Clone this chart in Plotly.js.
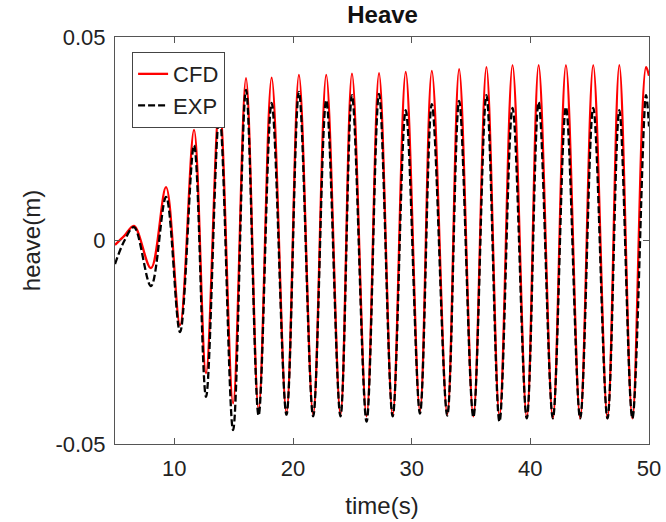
<!DOCTYPE html>
<html>
<head>
<meta charset="utf-8">
<script src="https://cdn.plot.ly/plotly-3.0.1.min.js"></script>
<style>html,body{margin:0;padding:0;background:#fff;}#chart{width:666px;height:522px;}</style>
</head>
<body>
<div id="chart"></div>
<script>
// Heave time histories (peaks / troughs)
const timeCFD = [5.0, 5.8, 6.6, 8.03, 9.3, 10.48, 11.66, 12.67, 13.8, 14.95, 16.04, 17.1, 18.2, 19.45, 20.5, 21.7, 22.8, 24.0, 24.97, 26.2, 27.25, 28.4, 29.5, 30.7, 31.7, 33.0, 34.0, 35.2, 36.3, 37.4, 38.5, 39.7, 40.7, 41.9, 43.0, 44.2, 45.3, 46.5, 47.5, 48.6, 49.75, 50.0];
const heaveCFD = [-0.0011, 0.0012, 0.0036, -0.0068, 0.0131, -0.0208, 0.0272, -0.0326, 0.0340, -0.0400, 0.0399, -0.0416, 0.0400, -0.0424, 0.0407, -0.0428, 0.0407, -0.0428, 0.0410, -0.0432, 0.0411, -0.0430, 0.0414, -0.0420, 0.0417, -0.0428, 0.0421, -0.0432, 0.0426, -0.0432, 0.0431, -0.0436, 0.0431, -0.0437, 0.0431, -0.0437, 0.0431, -0.0437, 0.0431, -0.0437, 0.0426, 0.0405];
const timeEXP = [5.0, 5.8, 6.6, 8.03, 9.3, 10.48, 11.66, 12.67, 13.8, 14.95, 16.04, 17.1, 18.2, 19.45, 20.5, 21.7, 22.8, 24.0, 24.97, 26.2, 27.25, 28.4, 29.5, 30.7, 31.7, 33.0, 34.0, 35.2, 36.3, 37.4, 38.5, 39.7, 40.7, 41.9, 43.0, 44.2, 45.3, 46.5, 47.5, 48.6, 49.75, 50.0];
const heaveEXP = [-0.0058, 0.0000, 0.0033, -0.0112, 0.0107, -0.0225, 0.0234, -0.0384, 0.0310, -0.0466, 0.0370, -0.0430, 0.0338, -0.0428, 0.0365, -0.0432, 0.0345, -0.0432, 0.0357, -0.0445, 0.0360, -0.0432, 0.0320, -0.0425, 0.0335, -0.0430, 0.0343, -0.0434, 0.0357, -0.0445, 0.0326, -0.0437, 0.0340, -0.0437, 0.0328, -0.0437, 0.0326, -0.0437, 0.0320, -0.0437, 0.0357, 0.0280];
const xTicks = [10, 20, 30, 40, 50];
const yTicks = [-0.05, 0, 0.05];
const yTickLabels = ['-0.05', '0', '0.05'];

const FONT = 'Liberation Sans, Arial, Helvetica, sans-serif';
const traces = [
  {x: timeCFD, y: heaveCFD, name: 'CFD', mode: 'lines', type: 'scatter',
   line: {color: '#ff0000', width: 2.3, shape: 'spline'}},
  {x: timeEXP, y: heaveEXP, name: 'EXP', mode: 'lines', type: 'scatter',
   line: {color: '#000000', width: 2.3, dash: '7px,3px', shape: 'spline'}}
];
const axisCommon = {
  showline: true, linecolor: '#555555', linewidth: 1, mirror: 'ticks',
  ticks: 'inside', ticklen: 6, tickcolor: '#555555', tickwidth: 1,
  showgrid: false, zeroline: false,
  tickfont: {family: FONT, size: 22, color: '#222222'}
};
const layout = {
  width: 666, height: 522,
  margin: {l: 115, r: 17, t: 37, b: 78},
  paper_bgcolor: '#ffffff', plot_bgcolor: '#ffffff',
  title: {text: '<b>Heave</b>', font: {family: FONT, size: 24, color: '#111111'},
          x: 0.5745, xanchor: 'center', y: 0.972, yanchor: 'middle'},
  xaxis: Object.assign({}, axisCommon, {
    range: [5, 50], tickvals: xTicks, ticklabelstandoff: 5,
    title: {text: 'time(s)', font: {family: FONT, size: 24, color: '#222222'}, standoff: 16}
  }),
  yaxis: Object.assign({}, axisCommon, {
    range: [-0.05, 0.05], tickvals: yTicks, ticktext: yTickLabels, ticklabelstandoff: 4,
    title: {text: 'heave(m)', font: {family: FONT, size: 24, color: '#222222'}, standoff: 8}
  }),
  showlegend: true,
  legend: {x: 0.032, y: 0.963, xanchor: 'left', yanchor: 'top',
           bgcolor: '#ffffff', bordercolor: '#444444', borderwidth: 1,
           font: {family: FONT, size: 22, color: '#222222'}, tracegroupgap: 0,
           itemwidth: 30}
};
Plotly.newPlot('chart', traces, layout, {displayModeBar: false, staticPlot: true});
</script>
</body>
</html>
